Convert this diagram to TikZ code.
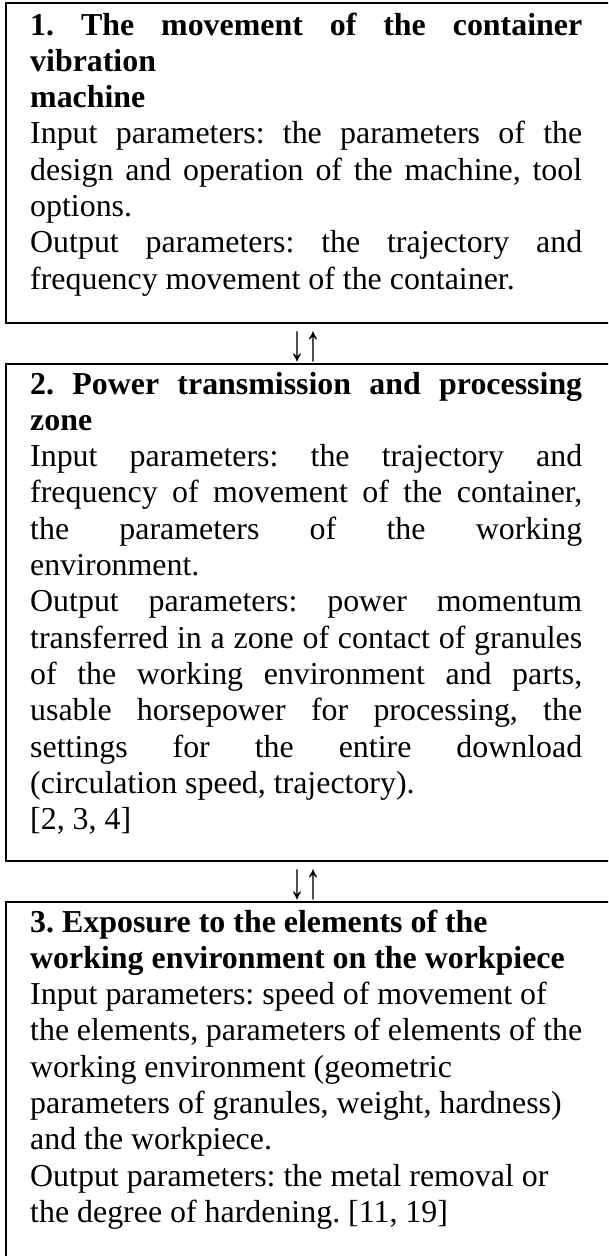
\documentclass[tikz,border=0pt]{standalone}
\usepackage{fontspec}
\usepackage{graphicx}
\setmainfont{Liberation Serif}
\newlength{\tw}\setlength{\tw}{552pt}
\newcommand{\J}[1]{\leavevmode\hbox to \linewidth{#1}}
\tikzset{
  boxframe/.style={draw=black, line width=1.8pt, anchor=north west, minimum width=700pt, inner sep=0pt},
  boxtext/.style={anchor=base west, inner sep=0pt, font=\fontsize{31.9pt}{36.3pt}\selectfont\frenchspacing},
  arrowtxt/.style={anchor=south, inner sep=0pt, font=\fontsize{31.9pt}{36.3pt}\selectfont}
}
\begin{document}
\begin{tikzpicture}[x=1pt,y=-1pt]
\useasboundingbox (0,0) rectangle (608,1256);
\clip (0,0) rectangle (608,1256);
\fill[white] (0,0) rectangle (608,1256);

\node[boxframe, minimum height=320pt] (box1) at (5,2) {};
\node[boxframe, minimum height=497pt] (box2) at (5,363) {};
\node[boxframe, minimum height=500pt] (box3) at (5,901) {};

\node[boxtext] (t1) at (30,35) {\parbox[t]{\tw}{\frenchspacing
\J{\textbf{1. The movement of the container}}\\
\textbf{vibration}\\
\textbf{machine}\\
\J{Input parameters: the parameters of the}\\
\J{design and operation of the machine, tool}\\
options.\\
\J{Output parameters: the trajectory and}\\
frequency movement of the container.}};

\node[boxtext] (t2) at (30,394) {\parbox[t]{\tw}{\frenchspacing
\J{\textbf{2. Power transmission and processing}}\\
\textbf{zone}\\
\J{Input parameters: the trajectory and}\\
\J{frequency of movement of the container,}\\
\J{the parameters of the working}\\
environment.\\
\J{Output parameters: power momentum}\\
\J{transferred in a zone of contact of granules}\\
\J{of the working environment and parts,}\\
\J{usable horsepower for processing, the}\\
\J{settings for the entire download}\\
(circulation speed, trajectory).\\
{[2, 3, 4]}}};

\node[boxtext] (t3) at (30,932) {\parbox[t]{\tw}{\raggedright\frenchspacing
\textbf{3. Exposure to the elements of the}\\
\textbf{working environment on the workpiece}\\
Input parameters: speed of movement of\\
the elements, parameters of elements of the\\
working environment (geometric\\
parameters of granules, weight, hardness)\\
and the workpiece.\\
Output parameters: the metal removal or\\
the degree of hardening. [11, 19]}};

\node[arrowtxt] (arr1) at (305.5,362) {\scalebox{1}[1.6]{↓↑}};
\node[arrowtxt] (arr2) at (305.5,900) {\scalebox{1}[1.6]{↓↑}};
\end{tikzpicture}
\end{document}
